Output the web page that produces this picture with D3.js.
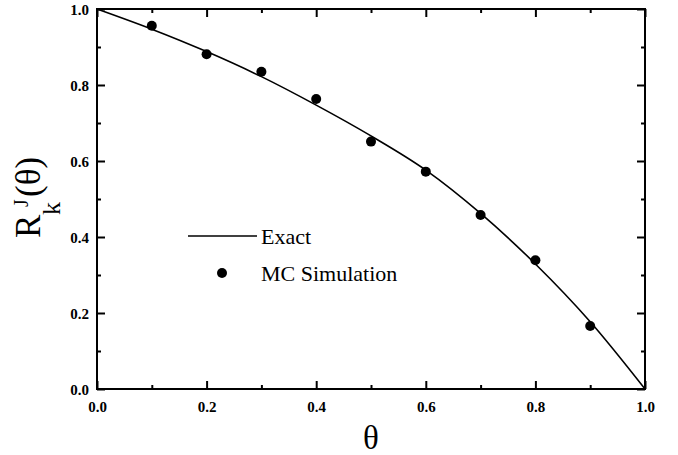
<!DOCTYPE html>
<html>
<head>
<meta charset="utf-8">
<script src="https://cdn.jsdelivr.net/npm/d3@7"></script>
<style>
  body { margin: 0; background: #fff; }
  svg { display: block; }
</style>
</head>
<body>
<div id="chart"></div>
<script>
// exact curve
const exactTheta = [0, 0.1, 0.2, 0.3, 0.4, 0.5, 0.6, 0.7, 0.8, 0.9, 1.0];
const exactR     = [1.0, 0.947, 0.888, 0.822, 0.747, 0.666, 0.576, 0.462, 0.329, 0.177, 0.0];

// MC simulation points
const mcTheta = [0.1, 0.2, 0.3, 0.4, 0.5, 0.6, 0.7, 0.8, 0.9];
const mcR     = [0.956, 0.881, 0.835, 0.763, 0.651, 0.572, 0.458, 0.339, 0.166];

const majorTicks = [0, 0.2, 0.4, 0.6, 0.8, 1.0];
const minorTicks = [0.1, 0.3, 0.5, 0.7, 0.9];
const legendLabels = ["Exact", "MC Simulation"];

const W = 678, H = 455;
const margin = {top: 9, right: 33, bottom: 66, left: 97};
const width = W - margin.left - margin.right;
const height = H - margin.top - margin.bottom;
const serif = "'Liberation Serif', 'Times New Roman', Times, serif";

const svg = d3.select("#chart")
    .append("svg")
    .attr("width", W)
    .attr("height", H);

const g = svg.append("g")
    .attr("transform", "translate(" + margin.left + "," + margin.top + ")");

const x = d3.scaleLinear().domain([0, 1]).range([0, width]);
const y = d3.scaleLinear().domain([0, 1]).range([height, 0]);
const fmt = d3.format(".1f");

// ---- axes (ticks pointing inward on all four sides) ----
function addAxis(axisFn, scale, ticks, size, labels, transform) {
    const a = axisFn(scale)
        .tickValues(ticks)
        .tickSizeInner(-size)
        .tickSizeOuter(0)
        .tickFormat(labels ? fmt : "");
    const ag = g.append("g").attr("transform", transform || null).call(a);
    ag.select(".domain").remove();
    ag.attr("font-family", null).attr("font-size", null);
    ag.selectAll(".tick line").attr("stroke", "#000").attr("stroke-width", 2);
    ag.selectAll(".tick text")
        .style("font-family", serif)
        .style("font-weight", "bold")
        .style("font-size", "15px")
        .attr("fill", "#000");
    return ag;
}

const xb = addAxis(d3.axisBottom, x, majorTicks, 8, true, "translate(0," + height + ")");
xb.selectAll("text").attr("y", 23).attr("dy", null);
addAxis(d3.axisBottom, x, minorTicks, 4, false, "translate(0," + height + ")");
addAxis(d3.axisTop, x, majorTicks, 8, false);
addAxis(d3.axisTop, x, minorTicks, 4, false);

const yl = addAxis(d3.axisLeft, y, majorTicks, 8, true);
yl.selectAll("text").attr("x", -8).attr("dy", "0.35em");
addAxis(d3.axisLeft, y, minorTicks, 4, false);
addAxis(d3.axisRight, y, majorTicks, 8, false, "translate(" + width + ",0)");
addAxis(d3.axisRight, y, minorTicks, 4, false, "translate(" + width + ",0)");

// frame
g.append("rect")
    .attr("x", 0).attr("y", 0)
    .attr("width", width).attr("height", height)
    .attr("fill", "none")
    .attr("stroke", "#000")
    .attr("stroke-width", 2);

// ---- exact curve ----
const line = d3.line()
    .x(function(d, i) { return x(exactTheta[i]); })
    .y(function(d) { return y(d); })
    .curve(d3.curveMonotoneX);

g.append("path")
    .datum(exactR)
    .attr("d", line)
    .attr("fill", "none")
    .attr("stroke", "#000")
    .attr("stroke-width", 1.6);

// ---- MC points ----
g.append("g")
    .selectAll("circle")
    .data(mcR)
    .enter()
    .append("circle")
    .attr("cx", function(d, i) { return x(mcTheta[i]); })
    .attr("cy", function(d) { return y(d); })
    .attr("r", 5)
    .attr("fill", "#000");

// ---- legend ----
const lg = svg.append("g");
lg.append("line")
    .attr("x1", 188).attr("x2", 257)
    .attr("y1", 236).attr("y2", 236)
    .attr("stroke", "#000")
    .attr("stroke-width", 1.6);
lg.append("circle")
    .attr("cx", 222).attr("cy", 273)
    .attr("r", 5)
    .attr("fill", "#000");
lg.selectAll("text.leg")
    .data(legendLabels)
    .enter()
    .append("text")
    .attr("class", "leg")
    .attr("x", 261)
    .attr("y", function(d, i) { return 244 + i * 37; })
    .style("font-family", serif)
    .style("font-size", "22px")
    .text(function(d) { return d; });

// ---- axis titles ----
svg.append("text")
    .attr("x", margin.left + width / 2)
    .attr("y", 449)
    .attr("text-anchor", "middle")
    .style("font-family", serif)
    .style("font-size", "33px")
    .text("θ");

// y title: R_k^J(θ), rotated
const yt = svg.append("g")
    .attr("transform", "translate(40,238) rotate(-90)")
    .style("font-family", serif);
yt.append("text").attr("x", 0).attr("y", 0)
    .style("font-size", "35px").text("R");
yt.append("text").attr("x", 23).attr("y", 20)
    .style("font-size", "26px").text("k");
yt.append("text").attr("x", 31).attr("y", -12)
    .style("font-size", "20px").text("J");
yt.append("text").attr("x", 41).attr("y", 0)
    .style("font-size", "35px").text("(θ)");
</script>
</body>
</html>
